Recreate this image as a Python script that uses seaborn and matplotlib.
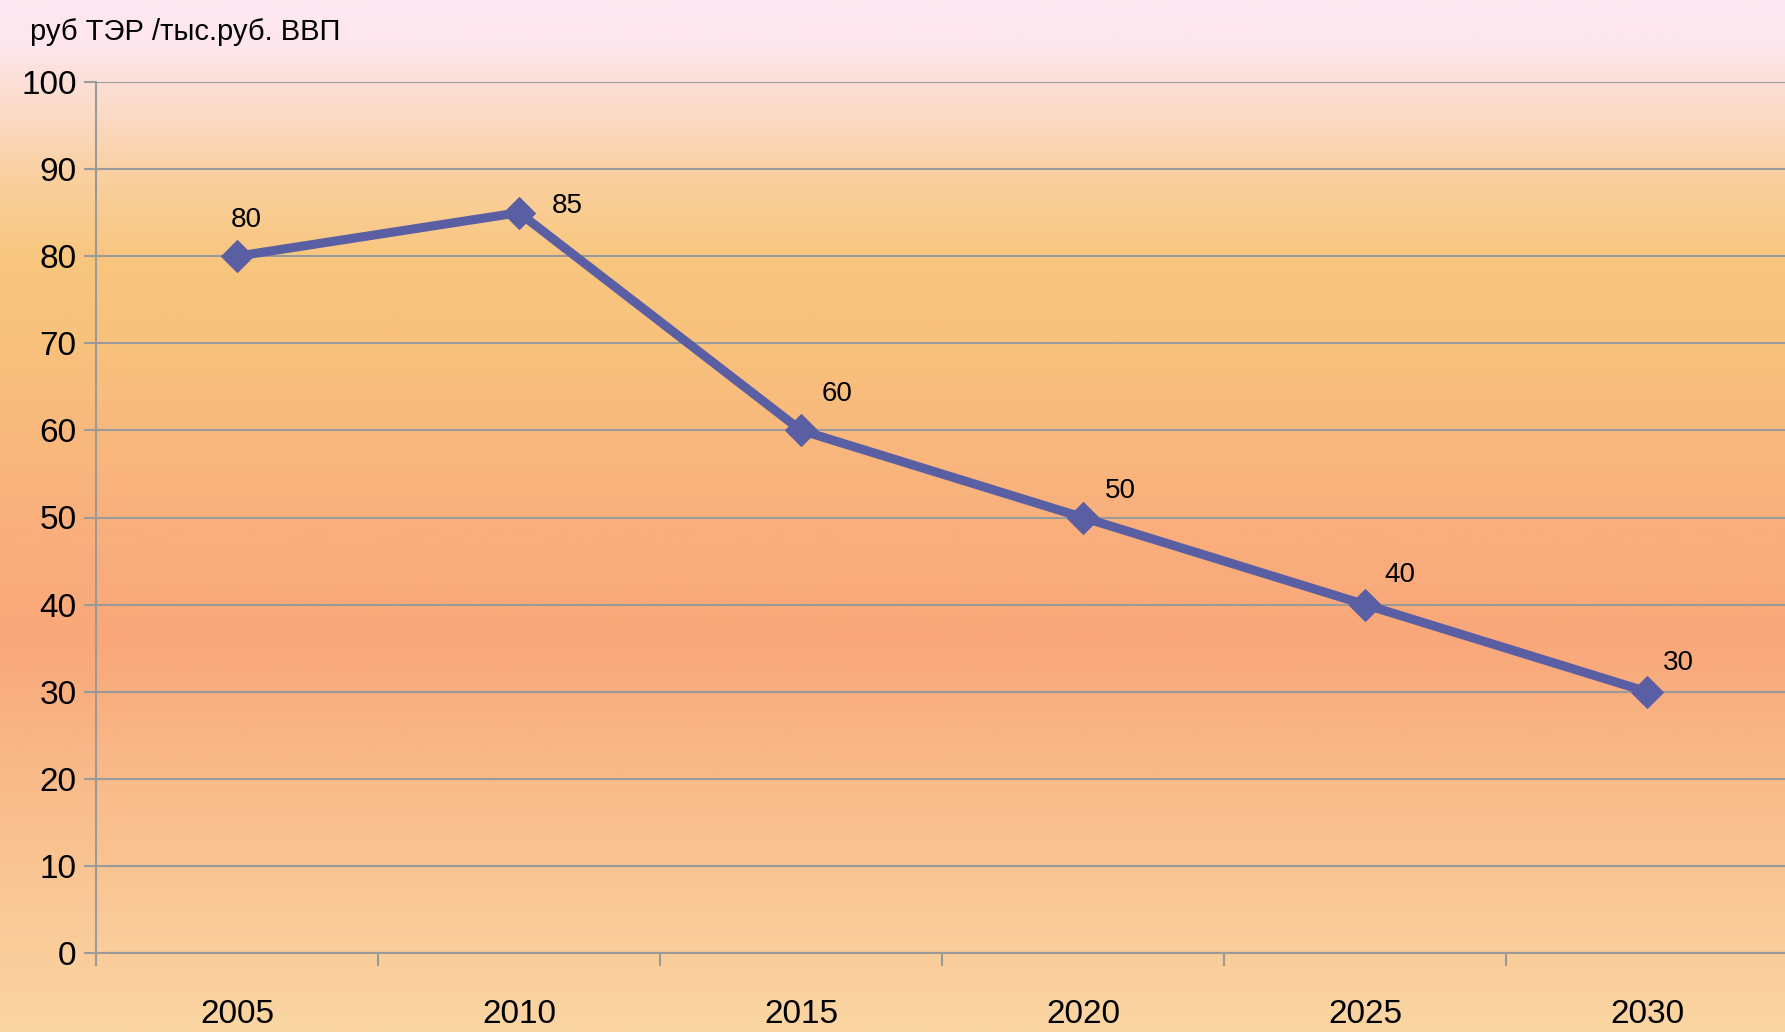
import numpy as np
import pandas as pd
import matplotlib
matplotlib.use("Agg")
import matplotlib.pyplot as plt
from matplotlib.colors import LinearSegmentedColormap
import seaborn as sns

# data
years = ["2005", "2010", "2015", "2020", "2025", "2030"]
values = [80, 85, 60, 50, 40, 30]
y_ticks = [0, 10, 20, 30, 40, 50, 60, 70, 80, 90, 100]
unit_label = "руб ТЭР /тыс.руб. ВВП"

sns.set_style("white")
plt.rcParams["font.family"] = ["Liberation Sans", "DejaVu Sans"]
plt.rcParams["text.color"] = "black"
plt.rcParams["xtick.color"] = "black"
plt.rcParams["ytick.color"] = "black"

LINE_COLOR = "#5A5EA3"
GRID_COLOR = "#9a9a9a"

# vertical background gradient (fraction from top, rgb)
grad_stops = [
    (0.00, (253, 232, 241)),
    (0.04, (253, 230, 238)),
    (0.09, (252, 221, 208)),
    (0.17, (250, 208, 160)),
    (0.25, (248, 198, 126)),
    (0.34, (248, 193, 124)),
    (0.50, (249, 176, 125)),
    (0.62, (249, 167, 122)),
    (0.76, (249, 187, 138)),
    (0.92, (250, 205, 155)),
    (1.00, (251, 214, 162)),
]

df = pd.DataFrame({"year": years, "value": values})

fig = plt.figure(figsize=(17.85, 10.32), dpi=100)

bg = fig.add_axes([0, 0, 1, 1], zorder=-10)
cmap = LinearSegmentedColormap.from_list(
    "bg", [(p, tuple(c / 255 for c in rgb)) for p, rgb in grad_stops])
bg.imshow(np.linspace(0, 1, 512).reshape(-1, 1), aspect="auto", cmap=cmap,
          extent=[0, 1, 0, 1], origin="upper")
bg.axis("off")

ax = fig.add_axes([96 / 1785, 1 - 953 / 1032, (1788 - 96) / 1785, (953 - 82) / 1032])
ax.set_facecolor("none")

sns.lineplot(data=df, x="year", y="value", ax=ax, color=LINE_COLOR,
             linewidth=6.5, marker="D", markersize=16,
             markeredgecolor=LINE_COLOR, zorder=5)

# data labels, offset up-right of each point (pixels)
label_offsets = [(9, 36), (48, 7), (36, 36), (37, 26), (35, 30), (31, 29)]
for i, (v, off) in enumerate(zip(values, label_offsets)):
    ax.annotate(str(v), (i, v), xytext=off, textcoords="offset pixels",
                ha="center", va="center", fontsize=20, color="black")

ax.set_xlim(-0.5, len(years) - 0.5)
ax.set_ylim(0, 100)
ax.set_yticks(y_ticks)
ax.yaxis.grid(True, color=GRID_COLOR, linewidth=1.5)
ax.set_axisbelow(True)

ax.set_xticks(range(len(years)))
ax.set_xticklabels(years)
ax.set_xticks(np.arange(-0.5, len(years), 1.0), minor=True)
ax.tick_params(axis="x", which="major", bottom=True, length=0, pad=33, labelsize=24)
ax.tick_params(axis="x", which="minor", bottom=True, length=9, width=1.5,
               color=GRID_COLOR, direction="out")
ax.tick_params(axis="y", length=9, width=1.5, color=GRID_COLOR, direction="out",
               labelsize=24, labelcolor="black", pad=5, left=True)

for side in ["top", "right"]:
    ax.spines[side].set_visible(False)
for side in ["left", "bottom"]:
    ax.spines[side].set_color(GRID_COLOR)
    ax.spines[side].set_linewidth(1.5)

ax.set_xlabel("")
ax.set_ylabel("")

fig.text(30 / 1785, 1 - 32 / 1032, unit_label, fontsize=21, ha="left", va="center")

fig.savefig("out.png", dpi=100)
